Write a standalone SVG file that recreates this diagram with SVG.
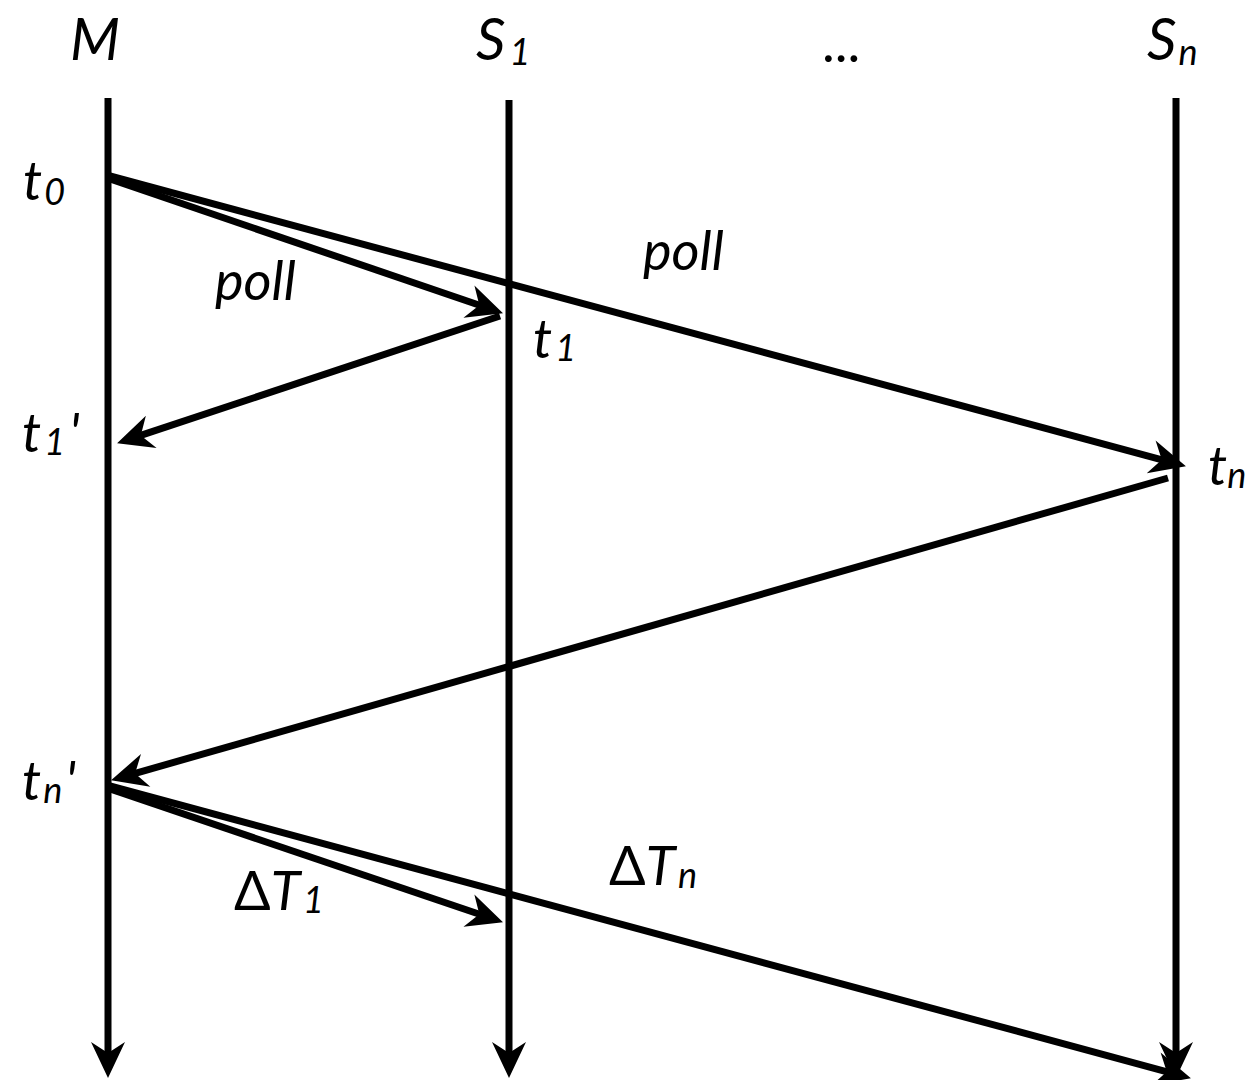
<svg xmlns="http://www.w3.org/2000/svg" width="1252" height="1080" viewBox="0 0 1252 1080">
<style>
.lbl{font-family:Lato,"Open Sans","DejaVu Sans",sans-serif;font-size:54px;font-style:italic;fill:#000}
.big{font-size:58px}
.sub{font-size:36px}
.up{font-style:normal}
.ln{stroke:#000;stroke-width:7;fill:none;marker-end:url(#ah)}
</style>
<defs>
<marker id="ah" markerUnits="userSpaceOnUse" viewBox="-22 -18 40 36" refX="0" refY="0" markerWidth="40" markerHeight="36" orient="auto" overflow="visible">
<path d="M17,0 L-19,-17 L-8,0 L-19,17 Z" fill="#000"/>
</marker>
</defs>
<g id="lifeline-M"><line class="ln" x1="108" y1="98" x2="108" y2="1061"/><text class="lbl big" x="70" y="60">M</text></g>
<g id="lifeline-S1"><line class="ln" x1="509" y1="100" x2="509" y2="1061"/><text class="lbl big" x="476" y="60">S<tspan class="sub" dx="4" dy="5">1</tspan></text></g>
<g id="ellipsis"><text class="lbl up" x="822" y="62">...</text></g>
<g id="lifeline-Sn"><line class="ln" x1="1176" y1="98" x2="1176" y2="1061"/><text class="lbl big" x="1147" y="60">S<tspan class="sub" dx="2" dy="5">n</tspan></text></g>
<g id="labels">
<text class="lbl" x="23" y="200">t<tspan class="sub" dx="2" dy="5">0</tspan></text>
<text class="lbl" x="215" y="300">poll</text>
<text class="lbl" x="643" y="270">poll</text>
<text class="lbl" x="533" y="358">t<tspan class="sub" dx="3" dy="3">1</tspan></text>
<text class="lbl" x="22" y="452">t<tspan class="sub" dx="3" dy="3">1</tspan><tspan dx="4" dy="-3">'</tspan></text>
<text class="lbl" x="1208" y="485">t<tspan class="sub" dx="0" dy="3">n</tspan></text>
<text class="lbl" x="22" y="800">t<tspan class="sub" dx="2" dy="3">n</tspan><tspan dx="3" dy="-3">'</tspan></text>
<text class="lbl" x="234" y="910"><tspan class="up">Δ</tspan>T<tspan class="sub" dx="3" dy="3">1</tspan></text>
<text class="lbl" x="609" y="885"><tspan class="up">Δ</tspan>T<tspan class="sub" dx="3" dy="3">n</tspan></text>
</g>
<g id="connectors">
<line class="ln" x1="110" y1="179" x2="486.9" y2="307.8"/>
<line class="ln" x1="110" y1="176" x2="1169.5" y2="461.8"/>
<line class="ln" x1="500" y1="316" x2="133.2" y2="437.9"/>
<line class="ln" x1="1168" y1="478" x2="127.4" y2="775.6"/>
<line class="ln" x1="110" y1="789" x2="486.9" y2="916.8"/>
<line class="ln" x1="110" y1="786" x2="1174.5" y2="1073.8"/>
</g>
</svg>
